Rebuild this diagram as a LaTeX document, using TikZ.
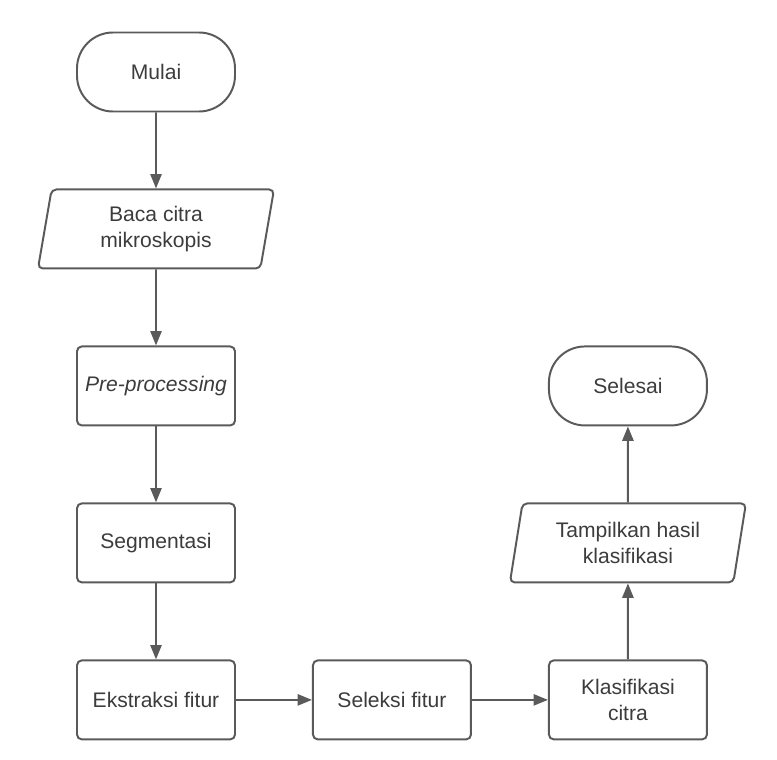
\documentclass[tikz,border=0pt]{standalone}
\usepackage{fontspec}
\setmainfont{Liberation Sans}
\usepackage{xcolor}
\usetikzlibrary{positioning,shapes.geometric,arrows.meta}
\definecolor{linegray}{HTML}{5A5A5A}
\definecolor{textgray}{HTML}{3C3C3C}

\begin{document}
\begin{tikzpicture}[node distance=1.9cm and 1.9cm, text centered, font=\fontsize{15}{18.2}\selectfont]
  % Styles
  \tikzstyle{terminal}=[rectangle, draw=linegray, line width=1.4pt, rounded corners=0.9cm, minimum width=3.95cm, minimum height=1.975cm, text=textgray]
  \tikzstyle{process}=[rectangle, draw=linegray, line width=1.4pt, rounded corners=0.12cm, minimum width=3.95cm, minimum height=1.975cm, text=textgray, align=center]
  \tikzstyle{io}=[trapezium, trapezium left angle=76, trapezium right angle=104, trapezium stretches body, draw=linegray, line width=1.4pt, rounded corners=0.12cm, minimum width=5.9cm, minimum height=1.975cm, text=textgray, align=center]
  \tikzstyle{flow}=[-{Triangle[length=0.36cm, width=0.28cm]}, line width=1.4pt, linegray]

  \useasboundingbox (0,0) rectangle (19.425,-19);

  % Left column
  \node[terminal] (mulai) at (3.9,-1.8) {Mulai};
  \node[io, below=of mulai] (baca) {Baca citra\\mikroskopis};
  \node[process, below=of baca] (prepro) {\textit{Pre-processing}};
  \node[process, below=of prepro] (segmen) {Segmentasi};
  \node[process, below=of segmen] (ekstraksi) {Ekstraksi fitur};
  % Bottom row
  \node[process, right=of ekstraksi] (seleksi) {Seleksi fitur};
  \node[process, right=of seleksi] (klasifikasi) {Klasifikasi\\citra};
  % Right column
  \node[io, above=of klasifikasi] (tampil) {Tampilkan hasil\\klasifikasi};
  \node[terminal, above=of tampil] (selesai) {Selesai};

  % Arrows
  \draw[flow] (mulai) -- (baca);
  \draw[flow] (baca) -- (prepro);
  \draw[flow] (prepro) -- (segmen);
  \draw[flow] (segmen) -- (ekstraksi);
  \draw[flow] (ekstraksi) -- (seleksi);
  \draw[flow] (seleksi) -- (klasifikasi);
  \draw[flow] (klasifikasi) -- (tampil);
  \draw[flow] (tampil) -- (selesai);
\end{tikzpicture}
\end{document}
